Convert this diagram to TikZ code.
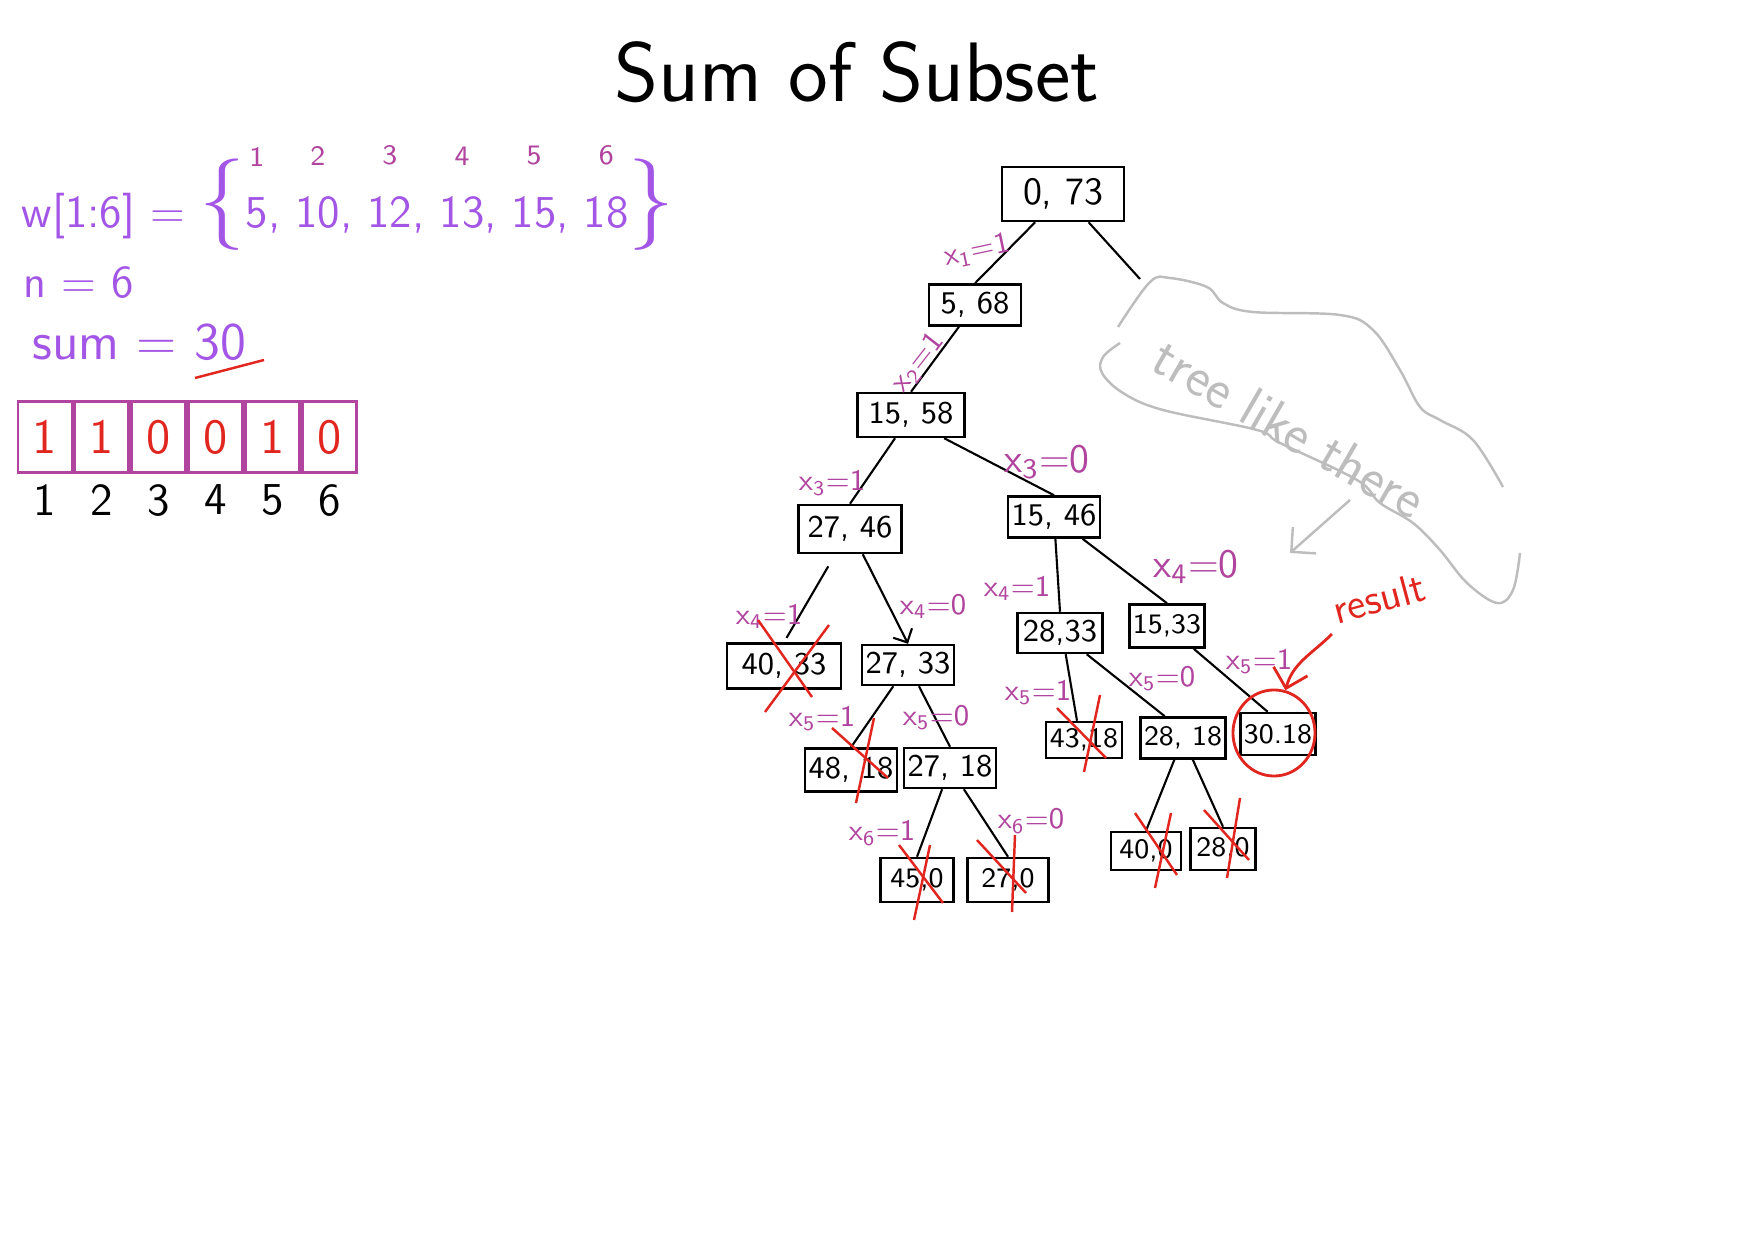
\documentclass[tikz,border=0pt]{standalone}
\usepackage{fontspec}
\usepackage{xcolor}
\usepackage{tikz}
\usetikzlibrary{
    positioning,
    arrows.meta,
    shapes.geometric
}

\definecolor{penviolet}{HTML}{A355E6}
\definecolor{penmagenta}{HTML}{B0449E}
\definecolor{penred}{HTML}{E0261E}
\definecolor{pengray}{HTML}{BDBDBD}

% index written above each weight
\newcommand{\wtop}[2]{\shortstack{{\color{penmagenta}\fontsize{8}{9}\selectfont #1}\\[6pt]#2}}

\tikzset{
    sum_box/.style={
        rectangle, draw, line width=0.7pt,
        inner sep=1pt, align=center,
        font=\sffamily\fontsize{9}{10}\selectfont
    },
    small_num/.style={
        font=\sffamily\fontsize{8}{9}\selectfont
    },
    x_label/.style={
        text=penmagenta, inner sep=1pt,
        font=\sffamily\fontsize{8.5}{10}\selectfont
    },
    x_label_big/.style={
        x_label, font=\sffamily\fontsize{11.5}{13}\selectfont
    },
    tree_line/.style={
        line width=0.6pt, draw=black
    },
    cross_line/.style={
        line width=0.7pt, draw=penred
    },
    bit_cell/.style={
        rectangle, draw=penmagenta, line width=0.8pt,
        minimum width=0.54cm, minimum height=0.71cm, inner sep=0pt,
        text=penred, font=\sffamily\fontsize{14}{16}\selectfont
    },
    bit_index/.style={
        inner sep=1pt, font=\sffamily\fontsize{13}{15}\selectfont
    }
}

\begin{document}
\begin{tikzpicture}[
    x=0.01cm, y=-0.01cm,
    pen_text/.style={anchor=base west, inner sep=0pt, text=penviolet, font=\sffamily\fontsize{13}{16}\selectfont},
    gray_line/.style={draw=pengray, line width=0.7pt},
    gray_arrow/.style={gray_line, -{Straight Barb[length=5pt, width=10pt]}},
    result_arrow/.style={draw=penred, line width=0.8pt, -{Straight Barb[length=5pt, width=10pt]}},
    down_arrow/.style={tree_line, -{Straight Barb[length=3pt, width=6pt]}}
]
    \useasboundingbox (0,0) rectangle (1754,1240);

    % --- TITLE ---
    \node[anchor=base, font=\sffamily\fontsize{24}{28}\selectfont] (title) at (857,102) {Sum of Subset};

    % --- INPUT DATA ---
    \node[pen_text] (weights) at (21,228) {w[1:6] = {\fontsize{26}{26}\selectfont\{}\wtop{1}{5}, \wtop{2}{10}, \wtop{3}{12}, \wtop{4}{13}, \wtop{5}{15}, \wtop{6}{18}{\fontsize{26}{26}\selectfont\}}};
    \node[pen_text] (count) at (23,298) {n = 6};
    \node[pen_text, font=\sffamily\fontsize{15}{18}\selectfont] (target) at (32,360) {sum = 30};
    \draw[cross_line] (195,378) -- (264,360);

    % --- SOLUTION VECTOR ---
    \node[bit_cell] (b1) at (45,437) {1};
    \node[bit_cell, right=0pt of b1] (b2) {1};
    \node[bit_cell, right=0pt of b2] (b3) {0};
    \node[bit_cell, right=0pt of b3] (b4) {0};
    \node[bit_cell, right=0pt of b4] (b5) {1};
    \node[bit_cell, right=0pt of b5] (b6) {0};
    \foreach \i in {1,...,6}
        \node[bit_index, below=0.06cm of b\i] (i\i) {\i};

    % --- STATE SPACE TREE ---
    \node[sum_box, minimum width=1.22cm, minimum height=0.54cm, font=\sffamily\fontsize{11}{13}\selectfont] (n073) at (1063,194) {0, 73};
    \node[sum_box, minimum width=0.92cm, minimum height=0.41cm] (n568) at (975,305) {5, 68};
    \node[sum_box, minimum width=1.07cm, minimum height=0.44cm] (n1558) at (911,415) {15, 58};
    \node[sum_box, minimum width=1.03cm, minimum height=0.48cm] (n2746) at (850,529) {27, 46};
    \node[sum_box, minimum width=0.88cm, minimum height=0.41cm] (n1546) at (1054,517) {15, 46};
    \node[sum_box, minimum width=1.14cm, minimum height=0.45cm] (n4033) at (784,666) {40, 33};
    \node[sum_box, minimum width=0.89cm, minimum height=0.40cm] (n2733) at (908,665) {27, 33};
    \node[sum_box, minimum width=0.85cm, minimum height=0.40cm] (n2833) at (1060,633) {28,33};
    \node[sum_box, small_num, minimum width=0.70cm, minimum height=0.43cm] (n1533) at (1167,626) {15,33};
    \node[sum_box, minimum width=0.91cm, minimum height=0.43cm] (n4818) at (851,770) {48, 18};
    \node[sum_box, minimum width=0.84cm, minimum height=0.40cm] (n2718) at (950,768) {27, 18};
    \node[sum_box, small_num, minimum width=0.76cm, minimum height=0.36cm] (n4318) at (1084,740) {43,18};
    \node[sum_box, small_num, minimum width=0.78cm, minimum height=0.41cm] (n2818) at (1183,738) {28, 18};
    \node[sum_box, small_num, minimum width=0.66cm, minimum height=0.42cm] (n3018) at (1278,734) {30.18};
    \node[sum_box, small_num, minimum width=0.73cm, minimum height=0.44cm] (n450) at (917,880) {45,0};
    \node[sum_box, small_num, minimum width=0.81cm, minimum height=0.44cm] (n270) at (1008,880) {27,0};
    \node[sum_box, small_num, minimum width=0.70cm, minimum height=0.38cm] (n400) at (1146,851) {40,0};
    \node[sum_box, small_num, minimum width=0.65cm, minimum height=0.42cm] (n280) at (1223,849) {28,0};

    \coordinate (root_r) at (1140,279);

    % --- EDGES ---
    \draw[tree_line] (n073) -- (n568.north);
    \draw[tree_line] (n073) -- (root_r);
    \draw[tree_line] (n568) -- (n1558.north);
    \draw[tree_line] (n1558) -- (n2746.north);
    \draw[tree_line] (n1558.-35) -- (n1546.north);
    \draw[tree_line, shorten <=0.14cm, shorten >=0.05cm] (n2746) -- (n4033.north);
    \draw[down_arrow] (n2746) -- (n2733.north);
    \draw[tree_line] (n1546) -- (n2833.north);
    \draw[tree_line] (n1546) -- (n1533.north);
    \draw[tree_line] (n2733) -- (n4818.north);
    \draw[tree_line] (n2733) -- (n2718.north);
    \draw[tree_line] (n2833.-75) -- (n4318.110);
    \draw[tree_line] (n2833) -- (n2818.130);
    \draw[tree_line] (n1533) -- (n3018.115);
    \draw[tree_line] (n2718) -- (n450.north);
    \draw[tree_line] (n2718) -- (n270.north);
    \draw[tree_line] (n2818) -- (n400.north);
    \draw[tree_line] (n2818) -- (n280.north);

    % --- EDGE LABELS ---
    \node[x_label, rotate=12] (l1) at (977,251) {x\textsubscript{1}=1};
    \node[x_label, rotate=52] (l2) at (918,363) {x\textsubscript{2}=1};
    \node[x_label] (l3a) at (832,483) {x\textsubscript{3}=1};
    \node[x_label_big] (l3b) at (1047,462) {x\textsubscript{3}=0};
    \node[x_label] (l4a) at (769,616) {x\textsubscript{4}=1};
    \node[x_label] (l4b) at (933,606) {x\textsubscript{4}=0};
    \node[x_label] (l4c) at (1017,588) {x\textsubscript{4}=1};
    \node[x_label_big] (l4d) at (1196,567) {x\textsubscript{4}=0};
    \node[x_label] (l5a) at (822,719) {x\textsubscript{5}=1};
    \node[x_label] (l5b) at (936,718) {x\textsubscript{5}=0};
    \node[x_label] (l5c) at (1038,693) {x\textsubscript{5}=1};
    \node[x_label] (l5d) at (1162,679) {x\textsubscript{5}=0};
    \node[x_label] (l5e) at (1259,662) {x\textsubscript{5}=1};
    \node[x_label] (l6a) at (882,833) {x\textsubscript{6}=1};
    \node[x_label] (l6b) at (1031,821) {x\textsubscript{6}=0};

    % --- PRUNED NODES (red crosses) ---
    \foreach \a/\b/\c/\d in {765/712/829/625, 758/620/812/697,
                             832/728/888/778, 874/718/856/803,
                             899/845/943/903, 930/845/914/920,
                             977/840/1026/893, 1015/835/1012/912,
                             1057/708/1106/758, 1100/695/1084/772,
                             1135/813/1177/875, 1171/813/1155/888,
                             1204/810/1249/860, 1240/798/1227/878}
        \draw[cross_line] (\a,\b) -- (\c,\d);

    % --- RESULT ---
    \node[draw=penred, line width=0.8pt, ellipse, minimum width=0.82cm, minimum height=0.86cm, inner sep=0pt] (ring) at (1274,733) {};
    \node[text=penred, rotate=15, inner sep=2pt, font=\sffamily\fontsize{12}{14}\selectfont] (result) at (1379,598) {result};
    \draw[result_arrow] (result.south west) to[out=225, in=75] (ring.75);

    % --- NOTE (rest of the tree) ---
    \draw[gray_line] plot[smooth, tension=0.6] coordinates {(1118,327) (1150,282) (1170,278) (1207,287) (1223,303) (1253,312) (1340,315) (1373,330) (1400,370) (1420,407) (1440,420) (1473,440) (1503,487)};
    \draw[gray_line] plot[smooth, tension=0.6] coordinates {(1120,343) (1103,357) (1102,373) (1123,393) (1163,410) (1257,430) (1280,443) (1357,480) (1380,503) (1413,523) (1440,550) (1467,583) (1497,603) (1513,590) (1520,553)};
    \node[text=pengray, rotate=-30, font=\sffamily\fontsize{16}{18}\selectfont] (note) at (1290,428) {tree like there};
    \coordinate (note_from) at (1350,500);
    \coordinate (note_to) at (1290,553);
    \draw[gray_arrow] (note_from) -- (note_to);

\end{tikzpicture}
\end{document}
